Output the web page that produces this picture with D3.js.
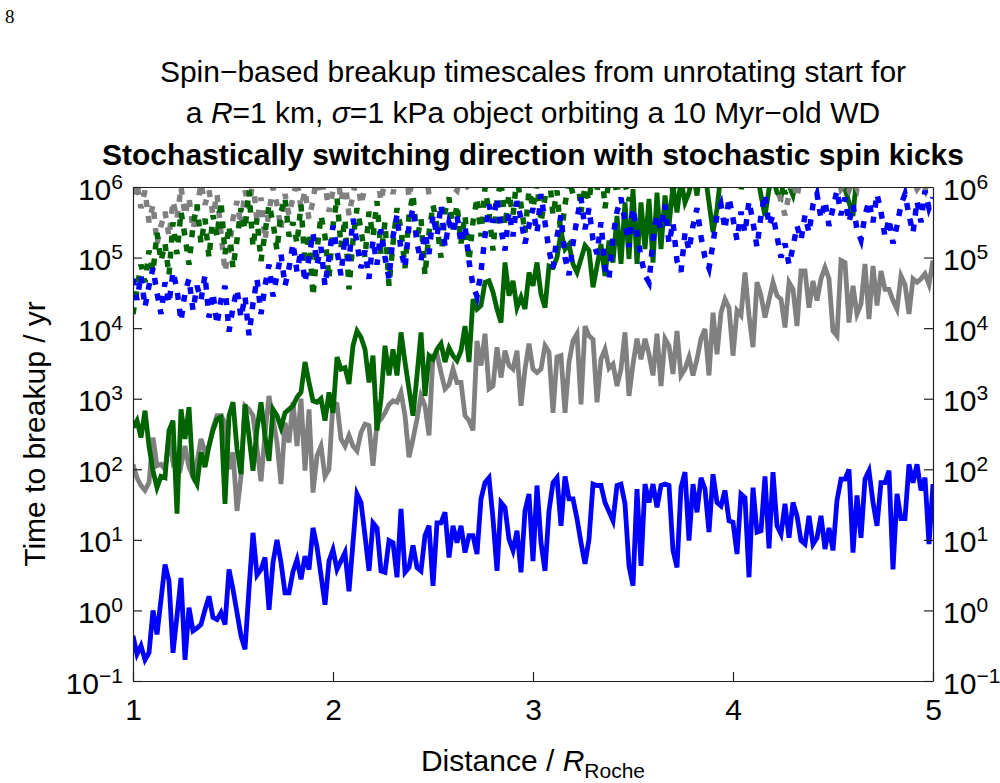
<!DOCTYPE html>
<html>
<head>
<meta charset="utf-8">
<script src="https://cdn.jsdelivr.net/npm/d3@7"></script>
<style>
  body { margin: 0; background: #fff; }
  svg { display: block; }
  text { font-family: "Liberation Sans", Arial, sans-serif; fill: #000; }
</style>
</head>
<body>
<svg id="chart" width="1000" height="783"></svg>
<script>
// exponents (log10 of time to breakup in yr), every 0.02 R_Roche from 1 to 5
const blueSolidExp = [
  -0.36, -0.62, -0.5, -0.7, -0.6, 0.0, -0.34, 0.15, 0.65, 0.42, -0.6, -0.08, 0.46, -0.7, 0.04, -0.29, -0.25, -0.2, 0.01, 0.2,
  -0.1, -0.13, -0.03, -0.2, 0.58, 0.3, -0.03, -0.36, -0.55, 0.3, 1.1, 0.5, 0.58, 0.75, 0.01, 0.68, 1.0, 0.68, 0.25,
  0.25, 0.55, 0.72, 0.44, 0.77, 0.58, 1.17, 0.9, 0.5, 0.08, 0.7, 0.86, 0.58, 0.7, 0.82, 0.27, 0.96, 1.65, 1.53, 1.06,
  0.56, 1.24, 1.17, 0.56, 0.54, 0.99, 0.96, 0.47, 1.44, 0.54, 0.61, 0.92, 0.61, 0.56, 1.06, 1.2, 0.35, 1.24, 1.24, 1.39, 0.75,
  1.2, 0.96, 1.2, 0.82, 1.06, 1.06, 0.8, 1.58, 1.81, 1.88, 1.3, 0.56, 1.53, 1.46, 1.01, 0.85, 1.13, 0.54, 1.41, 1.65,
  0.7, 1.77, 0.96, 0.56, 1.41, 1.81, 1.88, 1.2, 1.9, 1.58, 1.58, 1.3, 0.96, 0.66, 1.01, 1.79, 1.77, 1.77, 1.53, 1.4,
  1.27, 1.77, 1.79, 1.51, 0.63, 0.35, 1.72, 0.63, 1.79, 1.53, 1.79, 1.46, 1.77, 1.79, 1.77, 0.85, 0.61, 1.74, 1.96, 0.99,
  1.79, 1.39, 1.88, 1.72, 1.11, 1.93, 1.53, 1.48, 1.7, 1.27, 1.25, 0.8, 1.65, 1.6, 0.47, 1.74, 1.11, 1.13, 1.9, 0.88,
  1.96, 1.2, 1.08, 1.51, 1.03, 1.53, 1.34, 0.99, 0.94, 1.34, 0.94, 1.03, 1.34, 0.87, 1.17, 0.85, 1.56, 1.86, 1.86, 2.0,
  0.82, 1.63, 1.03, 1.86, 1.98, 1.53, 1.2, 1.81, 1.81, 1.98, 0.58, 1.65, 1.3, 1.3, 2.07, 1.81, 2.07, 1.7, 1.88, 0.94, 1.79
];
const greenSolidExp = [
  2.59, 2.69, 2.45, 2.83, 2.33, 1.98, 1.74, 1.9, 1.88, 2.55, 2.69, 1.37, 2.85, 2.43, 2.88, 1.9, 1.79, 2.24, 2.03, 2.33,
  2.55, 2.71, 2.74, 1.51, 2.76, 2.95, 2.29, 1.93, 2.92, 2.47, 1.98, 2.57, 2.95, 2.47, 2.12, 2.85, 2.76, 2.59, 2.8, 2.85,
  2.9, 3.02, 3.09, 3.52, 3.23, 2.97, 2.95, 3.0, 2.69, 3.09, 2.8, 3.59, 3.42, 3.44, 3.21, 3.75, 3.96, 3.87, 3.7, 3.23,
  3.61, 2.55, 3.0, 3.75, 3.33, 3.7, 3.33, 3.94, 3.52, 3.14, 2.76, 3.33, 3.94, 3.04, 3.61, 3.56, 3.7, 3.78, 3.52, 3.72,
  3.61, 3.54, 3.68, 4.03, 3.52, 4.41, 4.27, 4.32, 4.65, 4.67, 4.51, 4.27, 4.08, 4.93, 4.46, 4.67, 4.29, 4.44, 4.27, 4.79,
  4.6, 4.93, 4.48, 4.29, 4.88, 4.86, 5.0, 5.36, 5.12, 5.19, 4.91, 4.79, 4.98, 5.17, 5.1, 4.58, 4.88, 5.19, 4.74, 5.24,
  4.93, 5.59, 4.91, 5.78, 4.98, 5.97, 4.91, 5.78, 5.12, 5.83, 4.93, 5.92, 5.12, 5.88, 5.45, 6.02, 5.64, 6.1, 5.78, 5.92,
  6.2, 5.88, 6.3, 6.2, 5.78, 5.36, 5.69, 6.2, 6.3, 6.2, 6.35, 6.2, 6.3, 6.2, 6.3, 6.35, 6.2, 5.88, 5.59, 5.97,
  6.15, 5.92, 5.85, 6.2, 6.02, 5.88, 6.15, 6.3, 6.4, 6.35, 6.5, 6.4, 6.3, 6.45, 6.35, 6.5, 6.3, 6.2, 5.97, 5.78,
  5.59, 6.2, 6.4, 6.5, 6.45, 6.6, 6.5, 6.4, 6.55, 6.5, 6.6, 6.45, 6.5, 6.6, 6.55, 6.5, 6.6, 6.5, 6.55, 6.6, 6.5
];
const graySolidExp = [
  2.07, 1.88, 1.77, 1.7, 1.81, 2.45, 2.05, 2.07, 2.0, 2.45, 2.1, 2.19, 2.05, 2.33, 2.03, 1.9, 2.1, 2.43, 2.24, 2.33,
  2.59, 2.76, 2.76, 2.66, 2.0, 2.24, 1.41, 1.9, 2.9, 2.85, 2.76, 2.29, 1.83, 2.5, 3.04, 2.71, 2.38, 1.79, 2.66,
  2.38, 2.95, 2.33, 3.0, 1.98, 2.85, 1.67, 2.19, 2.33, 1.9, 2.0, 2.95, 2.92, 2.43, 2.33, 2.48, 2.33, 2.26, 2.52, 2.64,
  2.62, 2.05, 2.66, 2.71, 2.8, 2.92, 2.97, 2.95, 3.09, 2.76, 2.17, 2.43, 2.71, 3.04, 2.9, 2.48, 3.61, 3.63, 3.37, 3.14, 3.2,
  3.42, 3.23, 3.23, 2.76, 2.69, 2.55, 3.82, 3.47, 3.92, 3.14, 3.18, 3.73, 3.3, 3.68, 3.47, 3.42, 3.68, 2.9, 3.42, 3.78,
  3.42, 3.37, 3.42, 3.75, 3.66, 2.8, 3.59, 3.61, 2.8, 3.52, 3.82, 3.92, 2.92, 4.03, 3.89, 3.84, 2.95, 3.56, 3.7, 3.43,
  3.49, 3.18, 3.42, 3.94, 3.04, 3.49, 3.85, 3.56, 3.85, 3.63, 3.33, 3.92, 3.18, 3.85, 3.75, 3.35, 3.96, 3.33, 3.42, 3.59,
  3.33, 3.56, 3.85, 3.99, 3.33, 4.22, 3.63, 4.22, 4.41, 4.29, 3.61, 4.25, 4.18, 4.79, 4.18, 3.73, 4.65, 4.46, 4.15, 4.4,
  4.65, 4.46, 4.41, 4.01, 4.65, 4.55, 4.03, 4.81, 4.81, 4.29, 4.67, 4.39, 4.7, 4.86, 4.7, 3.96, 3.89, 4.96, 4.93, 4.08,
  4.6, 4.2, 4.34, 4.91, 4.13, 4.88, 4.32, 4.81, 4.55, 4.55, 4.39, 4.27, 4.74, 4.62, 4.2, 4.7, 4.65, 4.7, 4.77, 4.62, 4.96
];
const blueDashExp = [
  4.7, 4.4, 4.75, 4.3, 4.6, 4.85, 4.5, 4.2, 4.65, 4.35, 4.8, 4.55, 4.1, 4.5, 4.7, 4.25, 4.6, 4.4, 4.75, 4.15,
  4.5, 4.05, 4.4, 4.6, 3.95, 4.3, 4.55, 4.15, 4.45, 3.9, 4.35, 4.7, 4.2, 4.6, 4.9, 4.45, 4.75, 5.05, 4.6, 4.85,
  5.2, 4.8, 5.1, 4.65, 5.0, 5.35, 4.9, 5.15, 4.6, 5.0, 5.45, 5.1, 4.75, 5.3, 4.95, 5.55, 5.2, 4.85, 5.1, 4.7,
  5.25, 4.9, 5.4, 5.0, 4.7, 5.3, 5.6, 5.1, 4.85, 5.45, 5.7, 5.2, 4.95, 5.35, 5.05, 5.6, 5.3, 5.75, 5.15, 5.5,
  5.35, 5.6, 5.2, 5.45, 4.95, 4.6, 4.45, 4.8, 5.3, 5.75, 5.5, 5.85, 5.4, 5.1, 5.65, 5.3, 5.8, 5.55, 5.2, 5.45,
  5.7, 5.35, 5.9, 5.5, 5.1, 4.85, 5.3, 5.6, 5.0, 4.75, 5.2, 5.55, 5.85, 5.4, 5.7, 5.25, 5.05, 5.5, 4.85, 4.7,
  5.3, 5.65, 5.85, 5.5, 5.15, 5.7, 5.35, 5.0, 4.75, 4.65, 5.25, 5.6, 5.4, 5.75, 5.2, 5.5, 4.95, 4.8, 5.35, 5.1,
  5.45, 5.7, 5.3, 5.0, 4.85, 5.2, 5.6, 5.75, 5.4, 5.85, 5.55, 5.25, 5.65, 5.35, 5.8, 5.5, 5.15, 5.6, 5.9, 5.45,
  5.6, 5.3, 5.0, 5.2, 4.9, 5.15, 5.45, 5.25, 5.6, 5.35, 5.75, 5.9, 5.55, 5.8, 5.45, 5.7, 5.95, 5.6, 5.85, 5.5,
  5.75, 5.4, 5.25, 5.6, 5.8, 5.5, 5.9, 5.65, 5.3, 5.55, 5.2, 5.45, 5.75, 5.9, 5.6, 5.35, 5.8, 5.5, 5.95, 5.7, 5.85
];
const greenDashExp = [
  4.2, 4.55, 4.9, 4.65, 5.1, 4.8, 5.35, 4.95, 5.2, 4.75, 5.5, 5.05, 5.65, 5.3, 4.9, 5.45, 5.75, 5.2, 5.55, 5.0,
  5.6, 5.3, 5.8, 5.05, 5.45, 4.85, 5.25, 5.7, 5.4, 5.95, 5.15, 5.55, 4.95, 5.35, 5.75, 5.5, 5.1, 5.65, 5.85, 5.3,
  5.5, 5.2, 5.75, 4.9, 5.35, 4.45, 5.1, 5.6, 5.3, 4.7, 5.45, 5.85, 5.15, 5.55, 4.55, 5.25, 5.7, 5.4, 5.0, 5.65,
  5.3, 5.8, 5.05, 5.5, 4.6, 5.2, 5.7, 5.4, 4.85, 5.6, 5.9, 5.25, 5.55, 4.75, 5.35, 5.75, 5.45, 5.0, 5.65, 5.85,
  5.4, 5.75, 5.2, 5.6, 4.95, 5.5, 5.85, 5.3, 6.0, 5.65, 5.1, 5.8, 6.1, 5.45, 5.9, 5.6, 6.15, 5.75, 5.35, 5.95,
  5.7, 6.05, 5.5, 5.85, 6.2, 5.6, 5.95, 5.3, 5.75, 6.1, 5.9, 6.3, 5.65, 6.0, 5.8, 6.25, 5.95, 6.4, 5.7, 6.1,
  6.2, 5.9, 6.35, 6.05, 5.8, 6.3, 6.5, 6.1, 5.95, 6.4, 6.2, 6.6, 6.0, 6.3, 6.45, 5.9, 6.25, 6.55, 6.15, 6.4,
  6.5, 6.2, 6.6, 6.35, 6.7, 6.4, 6.1, 6.5, 6.3, 6.65, 6.45, 6.2, 5.95, 6.4, 6.6, 6.3, 6.5, 6.7, 6.4, 6.55,
  6.3, 5.95, 6.2, 5.9, 6.1, 6.4, 6.6, 6.35, 6.7, 6.5, 6.4, 6.6, 6.3, 6.55, 6.2, 5.95, 6.15, 6.4, 6.6, 6.5,
  6.7, 6.45, 6.6, 6.8, 6.5, 6.7, 6.4, 6.6, 6.75, 6.5, 6.65, 6.8, 6.55, 6.7, 6.6, 6.8, 6.5, 6.7, 6.6, 6.75, 6.65
];
const grayDashExp = [
  5.9, 6.05, 5.7, 5.95, 5.5, 5.75, 5.2, 5.45, 5.65, 5.3, 5.8, 5.55, 6.0, 5.6, 5.85, 5.4, 5.7, 6.05, 5.75, 5.95,
  5.6, 5.9, 5.35, 4.8, 5.1, 5.55, 5.8, 5.45, 5.95, 5.7, 6.1, 5.5, 5.85, 5.25, 5.65, 6.0, 5.75, 5.4, 5.9, 5.6,
  5.85, 6.1, 5.7, 5.95, 5.55, 5.8, 6.2, 5.9, 6.05, 5.65, 5.95, 6.25, 5.8, 6.1, 5.6, 5.9, 6.15, 5.75, 6.0, 6.3,
  5.95, 6.2, 5.8, 6.1, 6.35, 5.9, 6.25, 6.05, 6.4, 5.85, 6.15, 6.45, 6.0, 6.3, 5.9, 6.2, 6.5, 6.1, 6.35, 6.0,
  6.0, 5.95, 6.2, 6.05, 5.97, 6.3, 6.1, 6.4, 6.2, 6.5, 6.3, 6.6, 6.4, 6.2, 6.5, 6.35, 6.6, 6.45, 6.3, 6.55,
  6.4, 6.6, 6.3, 6.5, 6.7, 6.45, 6.6, 6.35, 6.5, 6.7, 6.4, 6.6, 6.8, 6.5, 6.3, 6.55, 5.95, 6.2, 6.45, 6.6,
  6.0, 6.3, 6.5, 6.7, 6.4, 6.6, 6.8, 6.5, 6.7, 6.4, 6.6, 6.8, 6.5, 6.3, 6.6, 6.2, 5.98, 6.1, 5.97, 6.3,
  6.5, 6.7, 6.4, 6.6, 6.8, 6.5, 6.7, 6.6, 6.8, 6.5, 6.7, 6.4, 6.6, 6.8, 6.5, 6.7, 6.6, 6.4, 6.2, 6.35,
  6.2, 6.0, 5.8, 5.6, 5.9, 6.1, 5.85, 6.2, 6.5, 6.7, 6.4, 6.6, 6.8, 6.5, 6.3, 6.6, 6.2, 5.97, 6.05, 5.95,
  6.1, 5.98, 6.3, 6.5, 6.7, 6.4, 6.6, 6.8, 6.5, 6.7, 6.4, 6.6, 6.8, 6.5, 6.3, 6.1, 5.97, 6.05, 5.95, 6.2, 6.4
];

const xTicks = [1, 2, 3, 4, 5];
const yTickExps = [-1, 0, 1, 2, 3, 4, 5, 6];
const titleTop = "Spin\u2212based breakup timescales from unrotating start for";
const titleBold = "Stochastically switching direction with stochastic spin kicks";

const plot = {left: 133, right: 933, top: 187, bottom: 681};
const svg = d3.select('#chart');

const x = d3.scaleLinear().domain([1, 5]).range([plot.left, plot.right]);
const y = d3.scaleLog().domain([0.1, 1e6]).range([plot.bottom, plot.top]);

const series = [
  {exp: graySolidExp, color: '#808080', dash: null},
  {exp: greenSolidExp, color: '#006400', dash: null},
  {exp: blueSolidExp, color: '#0000ff', dash: null},
  {exp: grayDashExp, color: '#808080', dash: '7,9'},
  {exp: greenDashExp, color: '#006400', dash: '7,9'},
  {exp: blueDashExp, color: '#0000ff', dash: '7,9'}
];

svg.append('defs').append('clipPath').attr('id', 'plotclip')
  .append('rect')
  .attr('x', plot.left).attr('y', plot.top)
  .attr('width', plot.right - plot.left).attr('height', plot.bottom - plot.top);

const line = d3.line().x(d => x(d.dist)).y(d => y(d.t));

const lines = svg.append('g').attr('clip-path', 'url(#plotclip)');
series.forEach(s => {
  const pts = s.exp.map((e, i) => ({dist: 1 + i * 0.02, t: Math.pow(10, e)}));
  lines.append('path')
    .datum(pts)
    .attr('d', line)
    .attr('fill', 'none')
    .attr('stroke', s.color)
    .attr('stroke-width', s.dash ? 5.5 : 4.8)
    .attr('stroke-dasharray', s.dash);
});

// axes
const fs = 30;
function expLabel(sel) {
  sel.each(function(d) {
    const e = Math.round(Math.log10(d));
    const t = d3.select(this).text(null);
    t.append('tspan').text('10');
    t.append('tspan').attr('dy', -11).attr('font-size', 21).text(e < 0 ? '\u2212' + (-e) : e);
  });
}
const yVals = yTickExps.map(e => Math.pow(10, e));

const gl = svg.append('g').attr('transform', `translate(${plot.left},0)`)
  .call(d3.axisLeft(y).tickValues(yVals).tickSizeInner(-9).tickSizeOuter(0).tickFormat(''));
gl.selectAll('.tick text').call(expLabel).attr('x', -10).attr('dy', 12);

const gr = svg.append('g').attr('transform', `translate(${plot.right},0)`)
  .call(d3.axisRight(y).tickValues(yVals).tickSizeInner(-9).tickSizeOuter(0).tickFormat(''));
gr.selectAll('.tick text').call(expLabel).attr('x', 10).attr('dy', 12);

const gb = svg.append('g').attr('transform', `translate(0,${plot.bottom})`)
  .call(d3.axisBottom(x).tickValues(xTicks).tickSizeInner(-9).tickSizeOuter(0).tickFormat(d3.format('d')));
gb.selectAll('.tick text').attr('y', 39).attr('dy', 0);

const gt = svg.append('g').attr('transform', `translate(0,${plot.top})`)
  .call(d3.axisTop(x).tickValues([]).tickSizeOuter(0));

[gl, gr, gb, gt].forEach(g => {
  g.attr('font-size', fs).attr('font-family', null);
  g.select('.domain').attr('stroke', '#222').attr('stroke-width', 1.2);
  g.selectAll('.tick line').attr('stroke', '#222').attr('stroke-width', 1.2);
});

// titles
const cx = (plot.left + plot.right) / 2;
svg.append('text').attr('x', cx).attr('y', 82).attr('text-anchor', 'middle')
  .attr('font-size', fs).text(titleTop);
const t2 = svg.append('text').attr('x', cx).attr('y', 123).attr('text-anchor', 'middle').attr('font-size', fs);
t2.append('tspan').text('a ');
t2.append('tspan').attr('font-style', 'italic').text('R');
t2.append('tspan').text('=1 km, ');
t2.append('tspan').attr('font-style', 'italic').text('\u03c3');
t2.append('tspan').text('=1 kPa object orbiting a 10 Myr\u2212old WD');
svg.append('text').attr('x', cx).attr('y', 165).attr('text-anchor', 'middle')
  .attr('font-size', fs).attr('font-weight', 'bold').text(titleBold);

// axis titles
const xt = svg.append('text').attr('x', cx).attr('y', 771).attr('text-anchor', 'middle').attr('font-size', fs);
xt.append('tspan').text('Distance / ');
xt.append('tspan').attr('font-style', 'italic').text('R');
xt.append('tspan').attr('font-size', 21).attr('dy', 7).text('Roche');

svg.append('text')
  .attr('transform', `translate(45,${(plot.top + plot.bottom) / 2}) rotate(-90)`)
  .attr('text-anchor', 'middle').attr('font-size', fs)
  .text('Time to breakup / yr');

// page number
svg.append('text').attr('x', 5).attr('y', 23)
  .style('font-family', '"Liberation Serif", "Times New Roman", serif')
  .attr('font-size', 19).text('8');
</script>
</body>
</html>
